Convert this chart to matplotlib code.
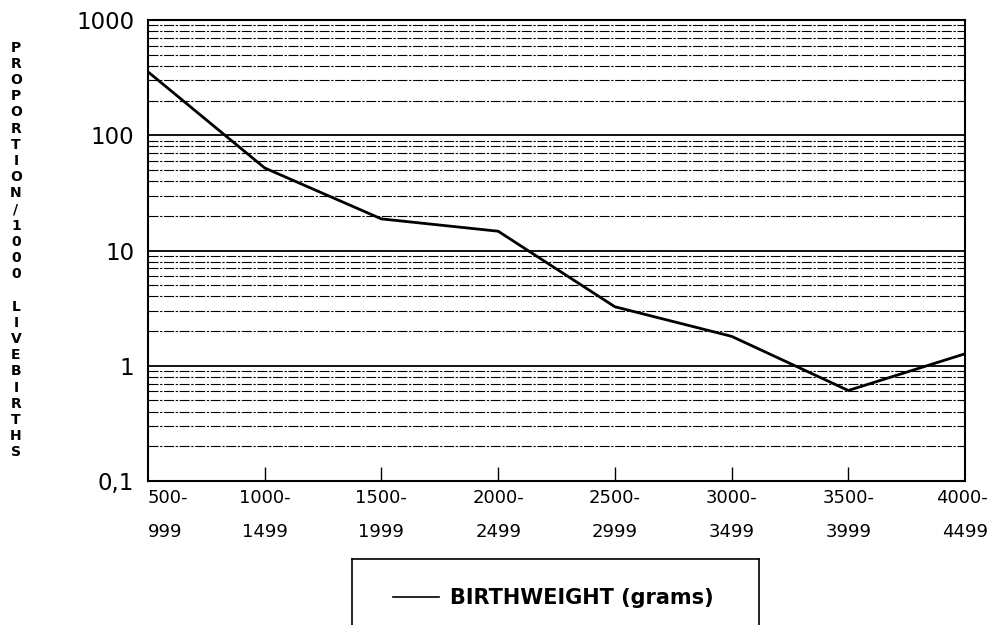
import matplotlib.pyplot as plt
from matplotlib.lines import Line2D
from matplotlib.ticker import FixedLocator, NullFormatter
from matplotlib.transforms import ScaledTranslation

# --- Data ---
weight_bands = ["500-\n999", "1000-\n1499", "1500-\n1999", "2000-\n2499",
                "2500-\n2999", "3000-\n3499", "3500-\n3999", "4000-\n4499"]
proportion = [355, 52, 18.8, 14.7, 3.25, 1.8, 0.61, 1.27]

y_ticks = [0.1, 1, 10, 100, 1000]
y_ticklabels = ["0,1", "1", "10", "100", "1000"]
minor_ticks = [m * 10.0 ** e for e in range(-1, 3) for m in range(2, 10)]

series_label = "BIRTHWEIGHT (grams)"
ylabel = "PROPORTION/1000 LIVEBIRTHS"

# --- Figure ---
fig = plt.figure(figsize=(9.91, 6.25), dpi=100)
ax = fig.add_axes([148 / 991, 1 - 481 / 625, (965 - 148) / 991, (481 - 20) / 625])

x = list(range(len(weight_bands)))
line, = ax.plot(x, proportion, color="black", lw=2.0, label=series_label, zorder=3)

ax.set_yscale("log")
ax.set_ylim(0.1, 1000)
ax.set_xlim(0, len(weight_bands) - 1)

# y axis
ax.yaxis.set_major_locator(FixedLocator(y_ticks))
ax.set_yticklabels(y_ticklabels, fontsize=16.5)
ax.yaxis.set_minor_locator(FixedLocator(minor_ticks))
ax.yaxis.set_minor_formatter(NullFormatter())
ax.tick_params(axis="y", which="both", length=0, pad=10)

# horizontal grid: solid at decades, broken at the minor ticks
ax.grid(True, axis="y", which="major", color="black", lw=1.3, ls="-")
ax.grid(True, axis="y", which="minor", color="black", lw=0.8,
        ls=(0, (9, 1.5, 2, 1.5)))
ax.set_axisbelow(True)

# x axis
ax.set_xticks(x)
ax.set_xticklabels(weight_bands, fontsize=13, linespacing=2.1)
ax.tick_params(axis="x", direction="in", length=10, width=1.0, pad=6)
for t in ax.xaxis.get_major_ticks()[:1] + ax.xaxis.get_major_ticks()[-1:]:
    t.tick1line.set_visible(False)
labels = ax.get_xticklabels()
labels[0].set_ha("left")
labels[-1].set_ha("right")
labels[-1].set_transform(labels[-1].get_transform()
                         + ScaledTranslation(0.23, 0, fig.dpi_scale_trans))

for s in ax.spines.values():
    s.set_color("black")
    s.set_linewidth(1.5)

# stacked vertical axis title
fig.text(0.016, 0.6, "\n".join(ylabel), fontsize=10, fontweight="bold",
         ha="center", va="center", linespacing=1.2)

# --- Legend in an open box at the bottom ---
bx0, bx1, by = 352 / 991, 759 / 991, 1 - 559 / 625
for xs, ys in [([bx0, bx1], [by, by]), ([bx0, bx0], [by, 0]), ([bx1, bx1], [by, 0])]:
    fig.add_artist(Line2D(xs, ys, transform=fig.transFigure, color="black", lw=1.2))

leg = fig.legend(handles=[line], loc="center", bbox_to_anchor=(0.5585, 0.043),
                 frameon=False, prop={"size": 15, "weight": "bold"},
                 handlelength=2.2, handletextpad=0.55)
leg.get_lines()[0].set_linewidth(1.2)

plt.savefig("out.png", dpi=100)
